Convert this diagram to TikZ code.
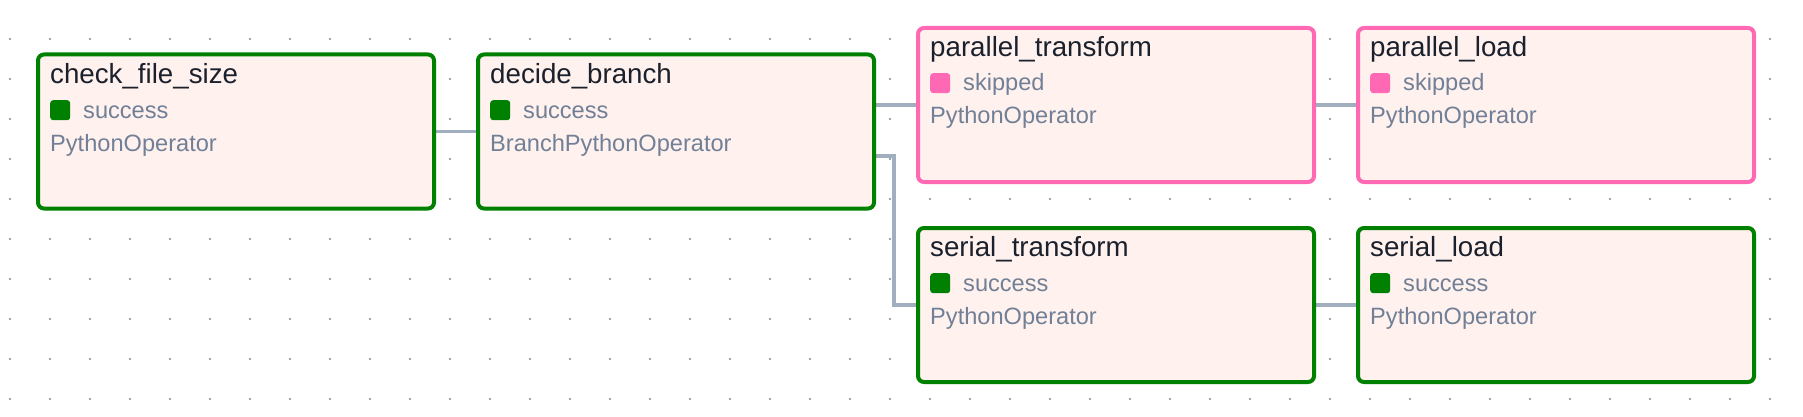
\documentclass[tikz,border=0pt]{standalone}
\usepackage{fontspec}
\setmainfont{Liberation Sans}
\usetikzlibrary{positioning}
\pgfdeclarelayer{bg}
\pgfsetlayers{bg,main}
\definecolor{okgreen}{HTML}{008000}
\definecolor{skippink}{HTML}{FF69B4}
\definecolor{taskfill}{HTML}{FFF1EE}
\definecolor{edgegray}{HTML}{A0AEC0}
\definecolor{subgray}{HTML}{718096}
\definecolor{titleink}{HTML}{1A202C}
\definecolor{dotgray}{HTML}{A3A3A3}

\begin{document}
\begin{tikzpicture}[x=1pt, y=-1pt,
    task/.style={draw, line width=4pt, rounded corners=6pt, fill=taskfill, minimum width=396pt, minimum height=154pt, inner sep=0pt, anchor=north west},
    title/.style={anchor=base west, inner sep=0pt, text=titleink, font=\fontsize{27.7}{30}\selectfont},
    info/.style={anchor=base west, inner sep=0pt, text=subgray, font=\fontsize{23.6}{26}\selectfont},
    badge/.style={minimum size=20pt, inner sep=0pt, rounded corners=3pt, anchor=north west},
    edge/.style={draw=edgegray, line width=3.5pt}]
      \path[use as bounding box] (0,0) rectangle (1803,417);

      \node[task, draw=okgreen] (cfs) at (36,52.5) {};
      \node[title] (cfs-name) at (50,83.5) {check\_file\_size};
      \node[badge, fill=okgreen] (cfs-badge) at (50,100) {};
      \node[info] (cfs-state) at (83,118) {success};
      \node[info] (cfs-op) at (50,151) {PythonOperator};

      \node[task, draw=okgreen] (decide) at (476,52.5) {};
      \node[title] (decide-name) at (490,83.5) {decide\_branch};
      \node[badge, fill=okgreen] (decide-badge) at (490,100) {};
      \node[info] (decide-state) at (523,118) {success};
      \node[info] (decide-op) at (490,151) {BranchPythonOperator};

      \node[task, draw=skippink] (ptrans) at (916,26) {};
      \node[title] (ptrans-name) at (930,56.5) {parallel\_transform};
      \node[badge, fill=skippink] (ptrans-badge) at (930,73) {};
      \node[info] (ptrans-state) at (963,91) {skipped};
      \node[info] (ptrans-op) at (930,124) {PythonOperator};

      \node[task, draw=skippink] (pload) at (1356,26) {};
      \node[title] (pload-name) at (1370,56.5) {parallel\_load};
      \node[badge, fill=skippink] (pload-badge) at (1370,73) {};
      \node[info] (pload-state) at (1403,91) {skipped};
      \node[info] (pload-op) at (1370,124) {PythonOperator};

      \node[task, draw=okgreen] (strans) at (916,226) {};
      \node[title] (strans-name) at (930,256.5) {serial\_transform};
      \node[badge, fill=okgreen] (strans-badge) at (930,273) {};
      \node[info] (strans-state) at (963,291) {success};
      \node[info] (strans-op) at (930,324) {PythonOperator};

      \node[task, draw=okgreen] (sload) at (1356,226) {};
      \node[title] (sload-name) at (1370,256.5) {serial\_load};
      \node[badge, fill=okgreen] (sload-badge) at (1370,273) {};
      \node[info] (sload-state) at (1403,291) {success};
      \node[info] (sload-op) at (1370,324) {PythonOperator};

      \coordinate (fork) at (894,156);

      \begin{pgfonlayer}{bg}
      \foreach \i in {0,...,44}
        \foreach \j in {0,...,9}
          \fill[dotgray] (9+40*\i,38+40*\j) rectangle ++(2,2);
      \draw[edge] (cfs.east) -- (decide.west);
      \draw[edge] (decide.east |- ptrans.west) -- (ptrans.west);
      \draw[edge] (decide.east |- fork) -- (fork) |- (strans.west);
      \draw[edge] (ptrans.east) -- (pload.west);
      \draw[edge] (strans.east) -- (sload.west);
      \end{pgfonlayer}
\end{tikzpicture}
\end{document}
